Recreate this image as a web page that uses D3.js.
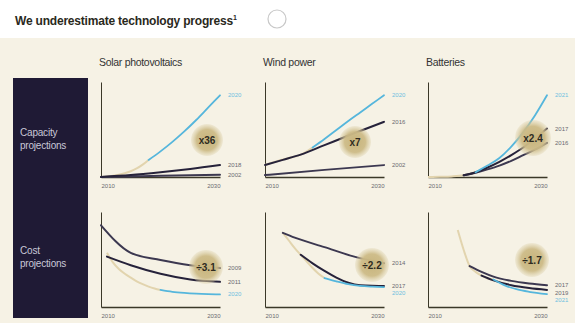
<!DOCTYPE html>
<html>
<head>
<meta charset="utf-8">
<script src="https://cdn.jsdelivr.net/npm/d3@7"></script>
<style>
  html, body { margin: 0; padding: 0; background: #ffffff; }
  svg { display: block; font-family: "Liberation Sans", Arial, sans-serif; }
</style>
</head>
<body>
<svg id="chart" width="575" height="323"></svg>
<script>
// ---- Data -------------------------------------------------------------
const columns = ["Solar photovoltaics", "Wind power", "Batteries"];
const rowTitles = [["Capacity", "projections"], ["Cost", "projections"]];
const tickYears = [2010, 2030];

// Capacity (indexed, 2030 latest projection = 86)
const solarCapActual = [[2010,0],[2011,0.4],[2012,1.2],[2013,2.4],[2014,4],[2015,6],[2016,9],[2017,13],[2018,18]];
const solarCap2020   = [[2018,18],[2020,27],[2022,37],[2024,48],[2026,60],[2028,73],[2030,86]];
const solarCap2018   = [[2010,0],[2015,2],[2020,5],[2025,8.5],[2030,12.6]];
const solarCap2002   = [[2010,0],[2020,1.2],[2030,2.4]];

const windCapActual  = [[2010,12.6],[2012,16.5],[2014,20],[2016,23.5],[2018,31]];
const windCap2020    = [[2018,31],[2020,40],[2022,49.5],[2024,59],[2026,68],[2028,77],[2030,86]];
const windCap2016    = [[2010,12.6],[2013,18],[2016,23.5],[2020,33.5],[2025,46],[2030,58]];
const windCap2002    = [[2010,2],[2020,7.5],[2030,12.5]];

const battCapActual  = [[2010,0],[2012,0.2],[2014,0.6],[2016,1.8],[2018,5]];
const battCap2021    = [[2018,5],[2020,12],[2022,20],[2024,32],[2026,47],[2028,65],[2030,86]];
const battCap2017    = [[2016,1.8],[2018,5],[2020,10],[2022,16],[2024,23],[2026,31],[2028,41],[2030,51]];
const battCap2016    = [[2016,1.8],[2018,4.5],[2020,8],[2022,12],[2024,17],[2026,23],[2028,29],[2030,36]];

// Cost (indexed)
const solarCostActual = [[2011,57],[2012,47],[2013,40],[2014,35],[2015,31],[2016,27],[2017,24],[2018,21.5],[2019,19.5],[2020,18]];
const solarCost2020   = [[2020,18],[2022,16],[2024,14.8],[2026,14],[2028,13.5],[2030,13.2]];
const solarCost2011   = [[2011,53],[2015,44],[2020,35],[2025,29],[2030,26.5]];
const solarCost2009   = [[2010,86],[2015,57],[2020,49.5],[2025,44],[2030,41]];

const windCostActual  = [[2013,78],[2014,70],[2015,62],[2016,55],[2017,48],[2018,41],[2019,35],[2020,30.5]];
const windCost2020    = [[2020,30.5],[2022,27],[2024,24],[2026,22.2],[2028,21.4],[2030,21]];
const windCost2017    = [[2016,55],[2018,46],[2020,38],[2022,31],[2024,25.5],[2026,22.8],[2028,22.3],[2030,22.2]];
const windCost2014    = [[2013,78],[2015,73],[2020,63],[2025,53],[2030,46]];

const battCostActual  = [[2015,81],[2016,60],[2017,43],[2018,37],[2019,33],[2020,30],[2021,29]];
const battCost2021    = [[2021,29],[2023,22.5],[2025,18.5],[2027,16],[2030,13.5]];
const battCost2019    = [[2019,33],[2021,28],[2024,23],[2027,20],[2030,18]];
const battCost2017    = [[2017,43],[2019,37],[2021,32],[2024,27.5],[2027,24.8],[2030,23]];

const capacityRatios = ["x36", "x7", "x2.4"];
const costRatios     = ["÷3.1", "÷2.2", "÷1.7"];

// ---- Panel table ------------------------------------------------------
const panels = [
  { row: 0, col: 0, actual: solarCapActual, ratio: capacityRatios[0],
    series: [{ name: "2002", values: solarCap2002, kind: "old" },
             { name: "2018", values: solarCap2018, kind: "mid" },
             { name: "2020", values: solarCap2020, kind: "latest" }] },
  { row: 0, col: 1, actual: windCapActual, ratio: capacityRatios[1],
    series: [{ name: "2002", values: windCap2002, kind: "old" },
             { name: "2016", values: windCap2016, kind: "mid" },
             { name: "2020", values: windCap2020, kind: "latest" }] },
  { row: 0, col: 2, actual: battCapActual, ratio: capacityRatios[2],
    series: [{ name: "2016", values: battCap2016, kind: "old" },
             { name: "2017", values: battCap2017, kind: "mid" },
             { name: "2021", values: battCap2021, kind: "latest" }] },
  { row: 1, col: 0, actual: solarCostActual, ratio: costRatios[0],
    series: [{ name: "2009", values: solarCost2009, kind: "old" },
             { name: "2011", values: solarCost2011, kind: "mid" },
             { name: "2020", values: solarCost2020, kind: "latest" }] },
  { row: 1, col: 1, actual: windCostActual, ratio: costRatios[1],
    series: [{ name: "2014", values: windCost2014, kind: "old" },
             { name: "2017", values: windCost2017, kind: "mid" },
             { name: "2020", values: windCost2020, kind: "latest" }] },
  { row: 1, col: 2, actual: battCostActual, ratio: costRatios[2],
    series: [{ name: "2017", values: battCost2017, kind: "old" },
             { name: "2019", values: battCost2019, kind: "mid" },
             { name: "2021", values: battCost2021, kind: "latest" }] }
];

// ---- Layout -----------------------------------------------------------
const colX = [101, 265, 428];
const rowY = [80, 210];
const panelW = 119, panelH = 97;
// bubble centre inside each panel (px from the panel's top-left) and radius
const bubbleSpots = [[106, 60, 16], [90, 62, 16], [105, 58, 18],
                     [105, 57, 17], [107, 55, 17], [104, 50, 17]];

const colors = {
  bg: "#f6f2e5", side: "#1f1a35", sideText: "#c9c8d8",
  axis: "#3b3828", latest: "#55b6dc", actual: "#e2d4ae",
  mid: "#26223a", old: "#3c3850", label: "#6a6a70"
};

const svg = d3.select("#chart");

// background panel
svg.append("rect").attr("x", 0).attr("y", 38).attr("width", 575).attr("height", 285)
  .attr("fill", colors.bg);

// title
const title = svg.append("text").attr("x", 15).attr("y", 25)
  .attr("font-size", 12).attr("font-weight", "bold").attr("fill", "#2a291c")
  .attr("letter-spacing", -0.2);
title.append("tspan").text("We underestimate technology progress");
title.append("tspan").attr("font-size", 7).attr("dy", -5).text("1");
svg.append("circle").attr("cx", 277).attr("cy", 19).attr("r", 9)
  .attr("fill", "#ffffff").attr("stroke", "#c8c8c8").attr("stroke-width", 1.2);

// column headers
svg.selectAll("text.col").data(columns).join("text")
  .attr("class", "col")
  .attr("x", (d, i) => colX[i] - 2).attr("y", 66)
  .attr("font-size", 10.5).attr("fill", "#333").attr("letter-spacing", -0.3)
  .text(d => d);

// side band with row titles
svg.append("rect").attr("x", 13).attr("y", 78).attr("width", 75).attr("height", 240)
  .attr("fill", colors.side);
rowTitles.forEach((lines, r) => {
  const t = svg.append("text").attr("x", 20).attr("font-size", 10)
    .attr("fill", colors.sideText).attr("letter-spacing", -0.2);
  lines.forEach((ln, k) => {
    t.append("tspan").attr("x", 20).attr("y", (r === 0 ? 136 : 254) + k * 13).text(ln);
  });
});

// bubble gradient
const defs = svg.append("defs");
const grad = defs.append("radialGradient").attr("id", "bubble");
grad.append("stop").attr("offset", "0%").attr("stop-color", "#c7b47c").attr("stop-opacity", 1);
grad.append("stop").attr("offset", "65%").attr("stop-color", "#cdbb87").attr("stop-opacity", 0.95);
grad.append("stop").attr("offset", "100%").attr("stop-color", "#d8cba0").attr("stop-opacity", 0.25);

const lineGen = d3.line().curve(d3.curveMonotoneX);

panels.forEach((p, i) => {
  const x0 = colX[p.col], y0 = rowY[p.row];
  const x = d3.scaleLinear().domain(tickYears).range([x0, x0 + panelW]);
  const y = d3.scaleLinear().domain([0, 100]).range([y0 + panelH, y0 + 2]);
  lineGen.x(d => x(d[0])).y(d => y(d[1]));

  const g = svg.append("g");

  // axes
  g.append("g").attr("transform", `translate(${x0},0)`)
    .call(d3.axisLeft(y).tickValues([]).tickSizeOuter(0))
    .call(a => a.select(".domain").attr("stroke", colors.axis).attr("stroke-width", 1));
  const xa = g.append("g").attr("transform", `translate(0,${y0 + panelH})`)
    .call(d3.axisBottom(x).tickValues(tickYears).tickSize(0).tickPadding(7)
      .tickFormat(d3.format("d")));
  xa.select(".domain").attr("stroke", colors.axis).attr("stroke-width", 1.6);
  xa.selectAll("text").attr("font-size", 6).attr("fill", colors.label)
    .attr("font-family", "Liberation Sans, Arial, sans-serif")
    .attr("text-anchor", (d, k) => k === 0 ? "start" : "end");

  // historical line
  g.append("path").attr("d", lineGen(p.actual)).attr("fill", "none")
    .attr("stroke", colors.actual).attr("stroke-width", 2);

  // projections
  const order = ["old", "mid", "latest"];
  order.forEach(kind => {
    const s = p.series.find(d => d.kind === kind);
    g.append("path").attr("d", lineGen(s.values)).attr("fill", "none")
      .attr("stroke", colors[kind]).attr("stroke-width", kind === "latest" ? 1.8 : 2)
      .attr("stroke-linecap", "round");
  });

  // end labels, nudged apart so they don't overlap
  const labs = p.series.map(s => ({
    name: s.name, kind: s.kind, y: y(s.values[s.values.length - 1][1])
  })).sort((a, b) => a.y - b.y);
  for (let k = 1; k < labs.length; k++) {
    if (labs[k].y - labs[k - 1].y < 7.5) labs[k].y = labs[k - 1].y + 7.5;
  }
  labs.forEach(l => {
    g.append("text").attr("x", x0 + panelW + 8).attr("y", l.y + 2)
      .attr("font-size", 6).attr("fill", l.kind === "latest" ? "#6fc0e0" : colors.label)
      .text(l.name);
  });

  // ratio bubble
  const [bx, by, br] = bubbleSpots[i];
  g.append("circle").attr("cx", x0 + bx).attr("cy", y0 + by).attr("r", br)
    .attr("fill", "url(#bubble)");
  g.append("text").attr("x", x0 + bx).attr("y", y0 + by + 3.5)
    .attr("text-anchor", "middle").attr("font-size", 10).attr("font-weight", "bold")
    .attr("fill", "#2e2b1f").text(p.ratio);
});
</script>
</body>
</html>
